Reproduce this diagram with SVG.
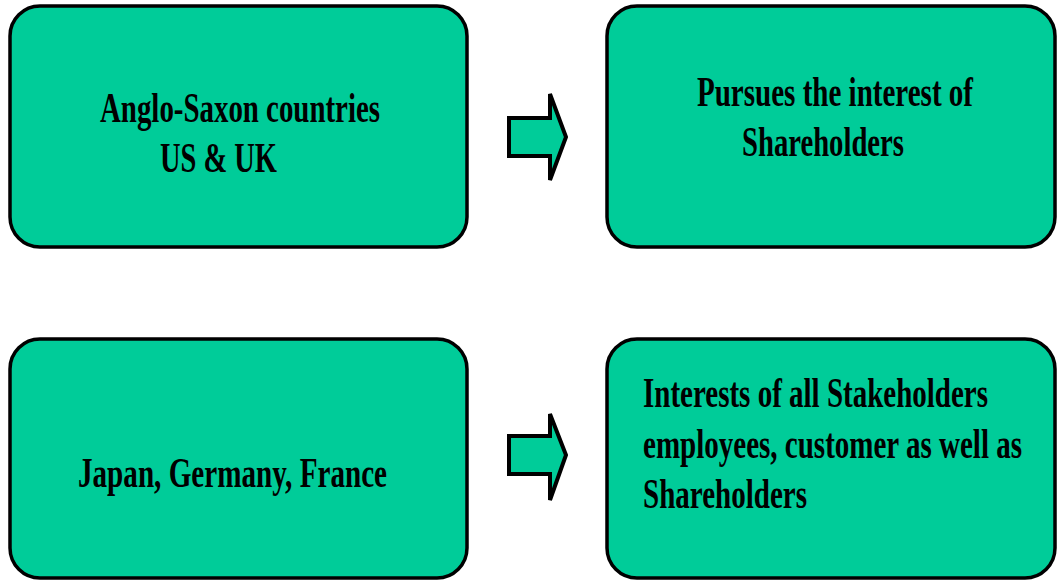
<svg xmlns="http://www.w3.org/2000/svg" width="1058" height="581" viewBox="0 0 1058 581">
<style>
.box{fill:#00CC99;stroke:#000;stroke-width:3.5}
.arr{fill:#00CC99;stroke:#000;stroke-width:4;stroke-linejoin:miter}
.t{font-family:"Liberation Serif","Times New Roman",serif;font-weight:bold;font-size:43px;fill:#000}
</style>
<rect width="1058" height="581" fill="#fff"/>
<g id="n1">
<rect class="box" x="10" y="6" width="457" height="241" rx="30"/>
<text class="t" transform="translate(100,122) scale(0.65,1)" textLength="430.8" lengthAdjust="spacingAndGlyphs">Anglo-Saxon countries</text>
<text class="t" transform="translate(160,172) scale(0.65,1)" textLength="180" lengthAdjust="spacingAndGlyphs">US &amp; UK</text>
</g>
<g id="n2">
<rect class="box" x="607" y="6" width="448" height="241" rx="30"/>
<text class="t" transform="translate(697,106) scale(0.65,1)" textLength="424.6" lengthAdjust="spacingAndGlyphs">Pursues the interest of</text>
<text class="t" transform="translate(742,156) scale(0.65,1)" textLength="249.2" lengthAdjust="spacingAndGlyphs">Shareholders</text>
</g>
<g id="n3">
<rect class="box" x="10" y="339" width="457" height="239" rx="30"/>
<text class="t" transform="translate(78,487) scale(0.65,1)" textLength="475.4" lengthAdjust="spacingAndGlyphs">Japan, Germany, France</text>
</g>
<g id="n4">
<rect class="box" x="607" y="339" width="448" height="239" rx="30"/>
<text class="t" transform="translate(643,407) scale(0.65,1)" textLength="530.8" lengthAdjust="spacingAndGlyphs">Interests of all Stakeholders</text>
<text class="t" transform="translate(643,458) scale(0.65,1)" textLength="583.1" lengthAdjust="spacingAndGlyphs">employees, customer as well as</text>
<text class="t" transform="translate(643,508) scale(0.65,1)" textLength="252.3" lengthAdjust="spacingAndGlyphs">Shareholders</text>
</g>
<g id="connectors">
<path class="arr" d="M509,118 L550,118 L550,94 L566,137 L550,180 L550,156 L509,156 Z"/>
<path class="arr" d="M509,436 L550,436 L550,414 L566,455 L550,500 L550,474 L509,474 Z"/>
</g>
</svg>
